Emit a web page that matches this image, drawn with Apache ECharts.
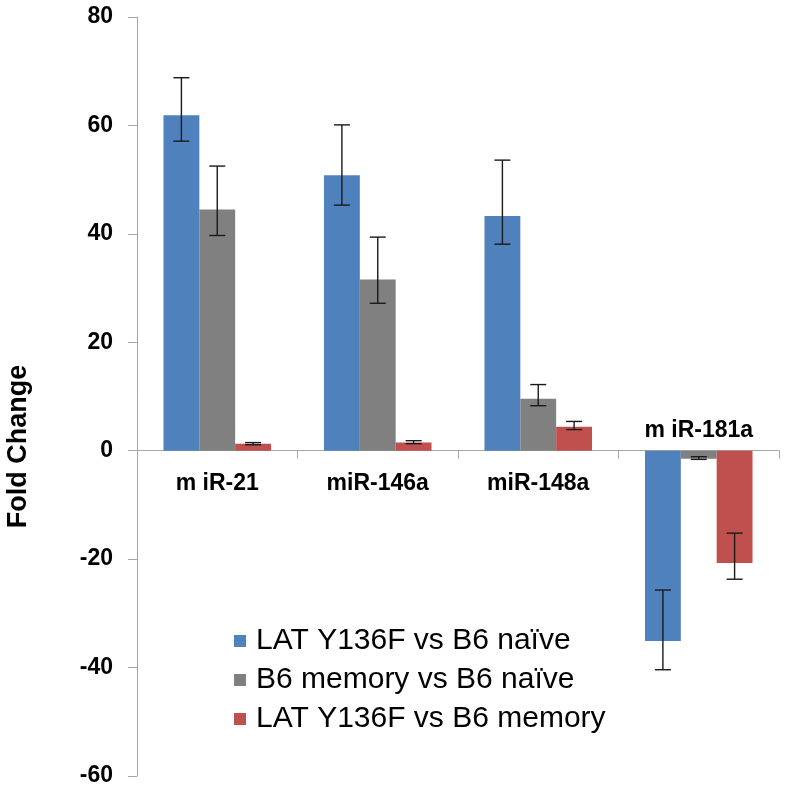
<!DOCTYPE html>
<html>
<head>
<meta charset="utf-8">
<script src="https://cdn.jsdelivr.net/npm/echarts@6/dist/echarts.min.js"></script>
<style>
  html, body { margin: 0; padding: 0; background: #fff; }
  #chart { width: 789px; height: 797px; }
</style>
</head>
<body>
<div id="chart"></div>
<script>
  // categories + series
  var categories = ['m iR-21', 'miR-146a', 'miR-148a', 'm iR-181a']
  var seriesNames = ['LAT Y136F vs B6 naïve', 'B6 memory vs B6 naïve', 'LAT Y136F vs B6 memory']
  var colors = ['#4F81BD', '#808080', '#C0504D']

  var latVsNaive = [61.9, 50.8, 43.3, -35.1]
  var latVsNaiveHigh = [68.8, 60.1, 53.6, -25.7]
  var latVsNaiveLow = [57.1, 45.3, 38.1, -40.4]

  var memVsNaive = [44.5, 31.6, 9.6, -1.5]
  var memVsNaiveHigh = [52.5, 39.4, 12.2, -1.1]
  var memVsNaiveLow = [39.7, 27.2, 8.3, -1.6]

  var latVsMem = [1.3, 1.5, 4.4, -20.7]
  var latVsMemHigh = [1.5, 1.85, 5.4, -15.2]
  var latVsMemLow = [1.1, 1.3, 3.9, -23.7]

  var yTicks = {min: -60, max: 80, interval: 20}

  var values = [latVsNaive, memVsNaive, latVsMem]
  var highs = [latVsNaiveHigh, memVsNaiveHigh, latVsMemHigh]
  var lows = [latVsNaiveLow, memVsNaiveLow, latVsMemLow]

  var catGap = 0.33

  // error bar data: [category index, low, high, series index]
  var errData = []
  values.forEach(function (arr, s) {
    arr.forEach(function (v, i) {
      errData.push([i, lows[s][i], highs[s][i], s])
    })
  })

  // category names sit on the zero line: below it, except where the bars go negative
  var labelData = categories.map(function (c, i) {
    var up = latVsNaive[i] < 0
    return {
      value: [i, 0],
      label: {position: up ? 'top' : 'bottom', distance: up ? 9 : 21}
    }
  })

  var chart = echarts.init(document.getElementById('chart'))

  var barSeries = values.map(function (arr, s) {
    return {
      name: seriesNames[s],
      type: 'bar',
      data: arr,
      barGap: '0%',
      barCategoryGap: (catGap * 100) + '%',
      itemStyle: {color: colors[s]},
      z: 2
    }
  })

  var option = {
    animation: false,
    backgroundColor: '#fff',
    grid: {left: 137, right: 10, top: 17, bottom: 21, containLabel: false, outerBoundsMode: 'none'},
    legend: {
      orient: 'vertical',
      left: 229,
      top: 621,
      icon: 'rect',
      itemWidth: 12,
      itemHeight: 12,
      itemGap: 9,
      textStyle: {fontFamily: 'Liberation Sans', fontSize: 30, color: '#000', padding: [0, 0, 0, 5]},
      data: seriesNames
    },
    xAxis: {
      type: 'category',
      data: categories,
      axisLine: {onZero: true, lineStyle: {color: '#a6a6a6', width: 1}},
      axisTick: {show: true, length: 8, interval: 0, lineStyle: {color: '#a6a6a6'}},
      axisLabel: {show: false},
      splitLine: {show: false}
    },
    yAxis: {
      type: 'value',
      min: yTicks.min,
      max: yTicks.max,
      interval: yTicks.interval,
      name: 'Fold Change',
      nameLocation: 'middle',
      nameGap: 105,
      nameRotate: 90,
      nameTextStyle: {
        fontFamily: 'Liberation Sans',
        fontWeight: 'bold',
        fontSize: 27,
        color: '#000',
        padding: [0, 100, 0, 0]
      },
      axisLine: {show: true, lineStyle: {color: '#a6a6a6', width: 1}},
      axisTick: {show: true, length: 9, lineStyle: {color: '#a6a6a6'}},
      axisLabel: {
        margin: 24,
        fontFamily: 'Liberation Sans',
        fontWeight: 'bold',
        fontSize: 23,
        color: '#000'
      },
      splitLine: {show: false}
    },
    series: barSeries.concat([{
      name: 'error',
      type: 'custom',
      z: 5,
      data: errData,
      encode: {x: 0, y: [1, 2]},
      renderItem: function (params, api) {
        var cat = api.value(0)
        var s = api.value(3)
        var band = api.size([1, 0])[0]
        var barW = band * (1 - catGap) / 3
        var center = api.coord([cat, 0])[0] + (s - 1) * barW
        var lo = api.coord([cat, api.value(1)])[1]
        var hi = api.coord([cat, api.value(2)])[1]
        var cap = 8
        var style = {stroke: '#1a1a1a', lineWidth: 1.4}
        return {
          type: 'group',
          children: [
            {type: 'line', shape: {x1: center, y1: lo, x2: center, y2: hi}, style: style},
            {type: 'line', shape: {x1: center - cap, y1: lo, x2: center + cap, y2: lo}, style: style},
            {type: 'line', shape: {x1: center - cap, y1: hi, x2: center + cap, y2: hi}, style: style}
          ]
        }
      }
    }, {
      name: 'categoryLabels',
      type: 'scatter',
      symbolSize: 0,
      silent: true,
      z: 6,
      itemStyle: {opacity: 1},
      data: labelData,
      label: {
        show: true,
        opacity: 1,
        fontFamily: 'Liberation Sans',
        fontWeight: 'bold',
        fontSize: 23,
        color: '#000',
        textBorderWidth: 0,
        formatter: function (p) { return categories[p.dataIndex] }
      }
    }])
  }

  chart.setOption(option)
</script>
</body>
</html>
